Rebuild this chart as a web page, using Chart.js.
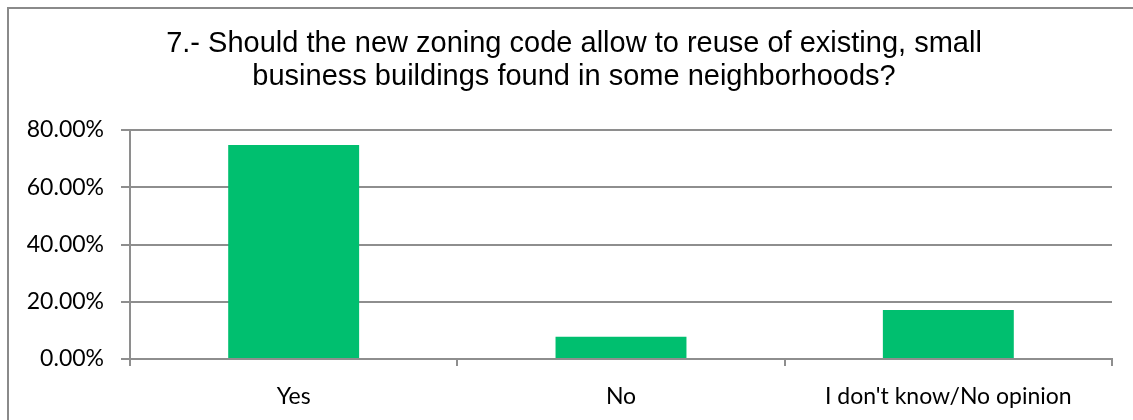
<!DOCTYPE html>
<html>
<head>
<meta charset="utf-8">
<script src="https://cdn.jsdelivr.net/npm/chart.js@4"></script>
<style>
  html, body { margin: 0; padding: 0; background: #fff; overflow: hidden; }
  #wrap { position: relative; width: 1133px; height: 420px; overflow: hidden; }
  #frame { position: absolute; left: 7px; top: 7px; width: 1300px; height: 500px; border: 2px solid #8a8a8a; box-sizing: border-box; pointer-events: none; }
</style>
</head>
<body>
<div id="wrap">
  <canvas id="myChart" width="1133" height="420"></canvas>
  <div id="frame"></div>
</div>
<script>
// data
const answers = ['Yes', 'No', "I don't know/No opinion"];
const shares = [74.8, 7.8, 17.1];
const yTicks = [0, 20, 40, 60, 80];
const titleLines = ['7.- Should the new zoning code allow to reuse of existing, small', 'business buildings found in some neighborhoods?'];

const ctx = document.getElementById('myChart');
const lineGray = '#8e8e8e';

// title is centred on the page, not on the plot, so draw it here
const pageTitle = {
  id: 'pageTitle',
  afterDraw(chart) {
    const c = chart.ctx;
    c.save();
    c.fillStyle = '#000';
    c.font = '29px "Liberation Sans"';
    c.textAlign = 'center';
    c.textBaseline = 'middle';
    titleLines.forEach((line, i) => c.fillText(line, 574, 44 + i * 33));
    c.restore();
  }
};

new Chart(ctx, {
  type: 'bar',
  data: {
    labels: answers,
    datasets: [{
      label: 'Responses',
      data: shares,
      backgroundColor: 'rgb(0,191,111)',
      categoryPercentage: 1,
      barPercentage: 0.4
    }]
  },
  options: {
    responsive: false,
    animation: false,
    layout: {
      padding: { left: 0, right: 21, top: 130, bottom: 0 }
    },
    plugins: {
      legend: { display: false },
      tooltip: { enabled: false },
      title: { display: false }
    },
    scales: {
      x: {
        afterFit: (s) => { s.height = 61; },
        grid: {
          offset: true,
          drawOnChartArea: false,
          drawTicks: true,
          tickLength: 7,
          color: lineGray,
          lineWidth: 2
        },
        border: { display: true, color: lineGray, width: 2 },
        ticks: {
          color: '#000',
          padding: 17,
          font: { family: 'Lato', size: 23 }
        }
      },
      y: {
        min: 0,
        max: 80,
        afterFit: (s) => { s.width = 130; },
        afterBuildTicks: (s) => { s.ticks = yTicks.map(v => ({ value: v })); },
        grid: {
          color: lineGray,
          lineWidth: 2,
          tickLength: 9
        },
        border: { display: true, color: lineGray, width: 2 },
        ticks: {
          color: '#000',
          padding: 17,
          font: { family: 'Lato', size: 23 },
          callback: (v) => v.toFixed(2) + '%'
        }
      }
    }
  },
  plugins: [pageTitle]
});
</script>
</body>
</html>
